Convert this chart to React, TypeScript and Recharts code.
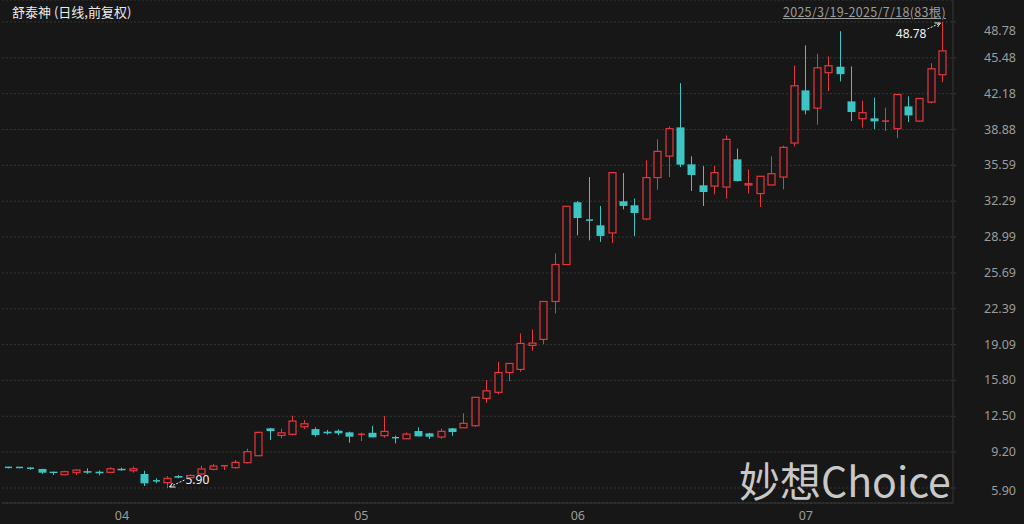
import React from 'react'
import {
  Bar,
  CartesianGrid,
  ComposedChart,
  XAxis,
  YAxis,
} from 'recharts'

// 舒泰神 daily candles, 2025/3/19 - 2025/7/18 (83 bars)
const dates = [
  '2025-03-19', '2025-03-20', '2025-03-21', '2025-03-24', '2025-03-25', '2025-03-26', '2025-03-27', '2025-03-28', '2025-03-31',
  '2025-04-01', '2025-04-02', '2025-04-03', '2025-04-07', '2025-04-08', '2025-04-09', '2025-04-10', '2025-04-11',
  '2025-04-14', '2025-04-15', '2025-04-16', '2025-04-17', '2025-04-18', '2025-04-21', '2025-04-22', '2025-04-23',
  '2025-04-24', '2025-04-25', '2025-04-28', '2025-04-29', '2025-04-30',
  '2025-05-06', '2025-05-07', '2025-05-08', '2025-05-09', '2025-05-12', '2025-05-13', '2025-05-14', '2025-05-15',
  '2025-05-16', '2025-05-19', '2025-05-20', '2025-05-21', '2025-05-22', '2025-05-23', '2025-05-26', '2025-05-27',
  '2025-05-28', '2025-05-29', '2025-05-30',
  '2025-06-03', '2025-06-04', '2025-06-05', '2025-06-06', '2025-06-09', '2025-06-10', '2025-06-11', '2025-06-12',
  '2025-06-13', '2025-06-16', '2025-06-17', '2025-06-18', '2025-06-19', '2025-06-20', '2025-06-23', '2025-06-24',
  '2025-06-25', '2025-06-26', '2025-06-27', '2025-06-30',
  '2025-07-01', '2025-07-02', '2025-07-03', '2025-07-04', '2025-07-07', '2025-07-08', '2025-07-09', '2025-07-10',
  '2025-07-11', '2025-07-14', '2025-07-15', '2025-07-16', '2025-07-17', '2025-07-18',
]

const opens = [
  7.80, 7.79, 7.72, 7.65, 7.40, 7.12, 7.31, 7.45, 7.40,
  7.34, 7.67, 7.49, 7.19, 6.56, 6.39, 7.00, 6.85, 7.19, 7.62, 7.88, 7.77, 8.23, 8.87, 11.39, 10.74, 10.84, 11.53, 11.32, 11.08, 11.17,
  11.02, 10.78, 10.98, 10.71, 10.53, 10.43, 11.14, 10.93, 10.59, 11.39, 11.44, 11.63, 14.14, 14.70, 16.53, 16.81, 19.02, 19.57, 23.06,
  26.46, 32.19, 30.55, 30.07, 29.37, 32.28, 31.91, 30.65, 34.46, 36.44, 39.08, 35.68, 33.75, 33.68, 33.59, 36.14, 33.78, 32.99, 33.78, 34.51,
  37.64, 42.48, 40.85, 44.11, 44.66, 41.47, 39.88, 39.91, 39.60, 38.96, 41.01, 39.66, 41.41, 43.92,
]
const highs = [
  7.85, 7.82, 7.80, 7.66, 7.42, 7.49, 7.62, 7.71, 7.52,
  7.82, 7.77, 7.89, 7.49, 6.79, 7.00, 7.10, 7.15, 7.95, 8.11, 7.97, 8.47, 9.51, 11.08, 11.42, 11.36, 12.55, 12.15, 11.48, 11.24, 11.29,
  11.08, 10.99, 11.60, 12.52, 10.71, 11.02, 11.48, 10.98, 11.36, 11.42, 12.77, 14.28, 15.83, 17.51, 17.40, 20.12, 20.49, 23.06, 27.47,
  31.82, 32.31, 34.51, 31.85, 34.92, 34.88, 32.53, 36.05, 37.98, 39.17, 43.15, 36.42, 35.52, 35.52, 38.34, 37.12, 35.22, 34.58, 36.42, 37.40,
  44.78, 46.62, 45.85, 45.61, 47.93, 44.69, 41.56, 41.81, 40.89, 42.11, 41.93, 41.74, 44.99, 48.78,
]
const lows = [
  7.70, 7.72, 7.58, 7.21, 7.10, 7.07, 7.10, 7.21, 7.07,
  7.28, 7.49, 7.31, 6.08, 6.35, 5.90, 6.80, 6.80, 7.12, 7.52, 7.55, 7.68, 8.17, 8.84, 10.31, 10.47, 10.75, 11.32, 10.62, 10.81, 10.75,
  10.07, 10.22, 10.56, 10.52, 10.01, 10.40, 10.65, 10.40, 10.43, 10.71, 11.44, 11.53, 13.74, 14.51, 15.73, 16.59, 18.52, 19.14, 21.96,
  26.46, 29.15, 28.69, 28.54, 28.45, 31.54, 29.09, 30.53, 33.35, 34.51, 35.43, 33.23, 31.85, 32.92, 32.53, 34.10, 32.99, 31.76, 33.78, 33.38,
  37.33, 40.28, 39.33, 42.42, 43.31, 39.66, 39.05, 38.92, 38.74, 38.10, 39.57, 39.57, 41.30, 43.24,
]
const closes = [
  7.75, 7.74, 7.62, 7.31, 7.28, 7.40, 7.55, 7.31, 7.25,
  7.67, 7.53, 7.67, 6.33, 6.52, 6.79, 6.85, 7.05, 7.65, 7.92, 7.95, 8.26, 9.24, 11.02, 11.14, 10.98, 12.06, 11.81, 10.77, 10.93, 10.93,
  10.62, 10.84, 10.56, 11.11, 10.44, 10.86, 10.65, 10.62, 11.11, 11.05, 11.85, 14.24, 14.84, 16.53, 17.36, 19.20, 19.23, 23.06, 26.46,
  31.82, 30.74, 30.48, 29.09, 34.92, 31.85, 31.20, 34.46, 36.87, 38.96, 35.65, 34.70, 33.13, 34.92, 37.98, 34.14, 33.90, 34.58, 34.82, 37.24,
  42.91, 40.64, 44.56, 44.75, 43.98, 40.49, 40.43, 39.63, 39.66, 42.11, 40.18, 41.74, 44.47, 46.12,
]

const yTicks = [5.90, 9.20, 12.50, 15.80, 19.09, 22.39, 25.69, 28.99, 32.29, 35.59, 38.88, 42.18, 45.48, 48.78]
const monthTicks = ['2025-04-01', '2025-05-06', '2025-06-03', '2025-07-01']

const RED = '#e8363d'
const TEAL = '#3cc5c3'
const BG = '#171717'
const AXIS_TEXT = '#9c9c9c'

const data = dates.map((date, i) => ({
  date,
  open: opens[i],
  high: highs[i],
  low: lows[i],
  close: closes[i],
}))

const maxHigh = Math.max(...highs)
const minLow = Math.min(...lows)

const Candle = (props: any) => {
  const { x, y, width, height, payload } = props
  const { open, close, high, low } = payload
  const top0 = Math.min(y, y + height)
  const span = Math.abs(height)
  const pxPerUnit = span / (high - low || 1)
  const yOf = (v: number) => top0 + (high - v) * pxPerUnit
  const cx = Math.round(x + width / 2) + 0.5
  const bw = Math.max(Math.round(width * 0.6), 3)
  const up = close >= open
  const color = up ? RED : TEAL
  const bTop = yOf(Math.max(open, close))
  const bBot = yOf(Math.min(open, close))
  const bh = bBot - bTop
  const hy = yOf(high)
  const ly = yOf(low)

  return (
    <g>
      <line x1={cx} x2={cx} y1={hy} y2={ly} stroke={color} strokeWidth={1} />
      {bh < 1.2 ? (
        <line x1={cx - bw / 2} x2={cx + bw / 2} y1={bTop} y2={bTop} stroke={color} strokeWidth={1.5} />
      ) : up ? (
        <rect x={cx - bw / 2} y={bTop} width={bw} height={bh} fill={BG} stroke={color} strokeWidth={1.2} />
      ) : (
        <rect x={cx - bw / 2 - 0.5} y={bTop} width={bw + 1} height={bh} fill={color} />
      )}
      {high === maxHigh && (
        <g>
          <text x={cx - 16} y={hy + 16} fill='#f2f2f2' fontSize={12} textAnchor='end' fontFamily='Noto Sans'>
            {high.toFixed(2)}
          </text>
          <line x1={cx - 15} y1={hy + 7} x2={cx - 3} y2={hy + 1.5} stroke='#f2f2f2' strokeDasharray='2 1.5' />
          <path d={`M${cx - 8},${hy + 1} L${cx - 2},${hy + 1} L${cx - 5},${hy + 5}`} stroke='#f2f2f2' fill='none' />
        </g>
      )}
      {low === minLow && (
        <g>
          <text x={cx + 18} y={ly - 4} fill='#f2f2f2' fontSize={12} textAnchor='start' fontFamily='Noto Sans'>
            {low.toFixed(2)}
          </text>
          <line x1={cx + 17} y1={ly - 8} x2={cx + 3} y2={ly - 1.5} stroke='#f2f2f2' strokeDasharray='2 1.5' />
          <path d={`M${cx + 8},${ly - 1} L${cx + 2},${ly - 1} L${cx + 5},${ly - 5}`} stroke='#f2f2f2' fill='none' />
        </g>
      )}
    </g>
  )
}

const YTick = (props: any) => {
  const { y, payload } = props
  const v = payload.value as number
  let dy = 4
  if (v === yTicks[yTicks.length - 1]) dy = 13
  if (v === yTicks[0]) dy = 7
  return (
    <text x={1016} y={y + dy} fill={AXIS_TEXT} fontSize={12.5} textAnchor='end' fontFamily='Noto Sans'>
      {v.toFixed(2)}
    </text>
  )
}

const XTick = (props: any) => {
  const { x, payload } = props
  return (
    <text x={x + 4.5} y={520} fill={AXIS_TEXT} fontSize={12.5} textAnchor='start' fontFamily='Noto Sans'>
      {String(payload.value).slice(5, 7)}
    </text>
  )
}

const App = () => {
  return (
    <div style={{ position: 'relative', width: 1024, height: 524, background: BG, overflow: 'hidden' }}>
      <style>{`body{margin:0;background:${BG}}`}</style>
      <ComposedChart
        width={1024}
        height={524}
        data={data}
        margin={{ top: 0, right: 0, bottom: 0, left: 2 }}
        barCategoryGap='0%'
      >
        <CartesianGrid vertical={false} stroke='#363636' strokeDasharray='2 2' />
        <XAxis
          dataKey='date'
          ticks={monthTicks}
          interval={0}
          tick={<XTick />}
          height={21}
          padding={{ left: 0, right: 5 }}
          axisLine={{ stroke: '#363636' }}
          tickLine={false}
        />
        <YAxis
          orientation='right'
          width={71}
          domain={[4.52, 50.8]}
          ticks={yTicks}
          interval={0}
          tick={<YTick />}
          axisLine={{ stroke: '#363636' }}
          tickLine={{ stroke: '#363636' }}
          tickSize={3}
          allowDataOverflow
        />
        <Bar
          dataKey={(d: any) => [d.low, d.high]}
          shape={<Candle />}
          isAnimationActive={false}
        />
      </ComposedChart>
      <div
        style={{
          position: 'absolute',
          left: 12,
          top: 2,
          color: '#ececec',
          fontSize: 13,
          fontFamily: '"Noto Sans CJK SC", "Noto Sans"',
        }}
      >
        舒泰神 (日线,前复权)
      </div>
      <div
        style={{
          position: 'absolute',
          right: 78,
          top: 2,
          color: AXIS_TEXT,
          fontSize: 12.5,
          letterSpacing: 0.3,
          textDecoration: 'underline',
          fontFamily: '"Noto Sans CJK SC", "Noto Sans"',
        }}
      >
        2025/3/19-2025/7/18(83根)
      </div>
      <div
        style={{
          position: 'absolute',
          left: 739,
          top: 449,
          color: '#dcdcdc',
          opacity: 0.9,
          fontSize: 41,
          fontFamily: '"Noto Sans CJK SC", "Noto Sans"',
          pointerEvents: 'none',
          whiteSpace: 'nowrap',
        }}
      >
        妙想Choice
      </div>
    </div>
  )
}

export default App
